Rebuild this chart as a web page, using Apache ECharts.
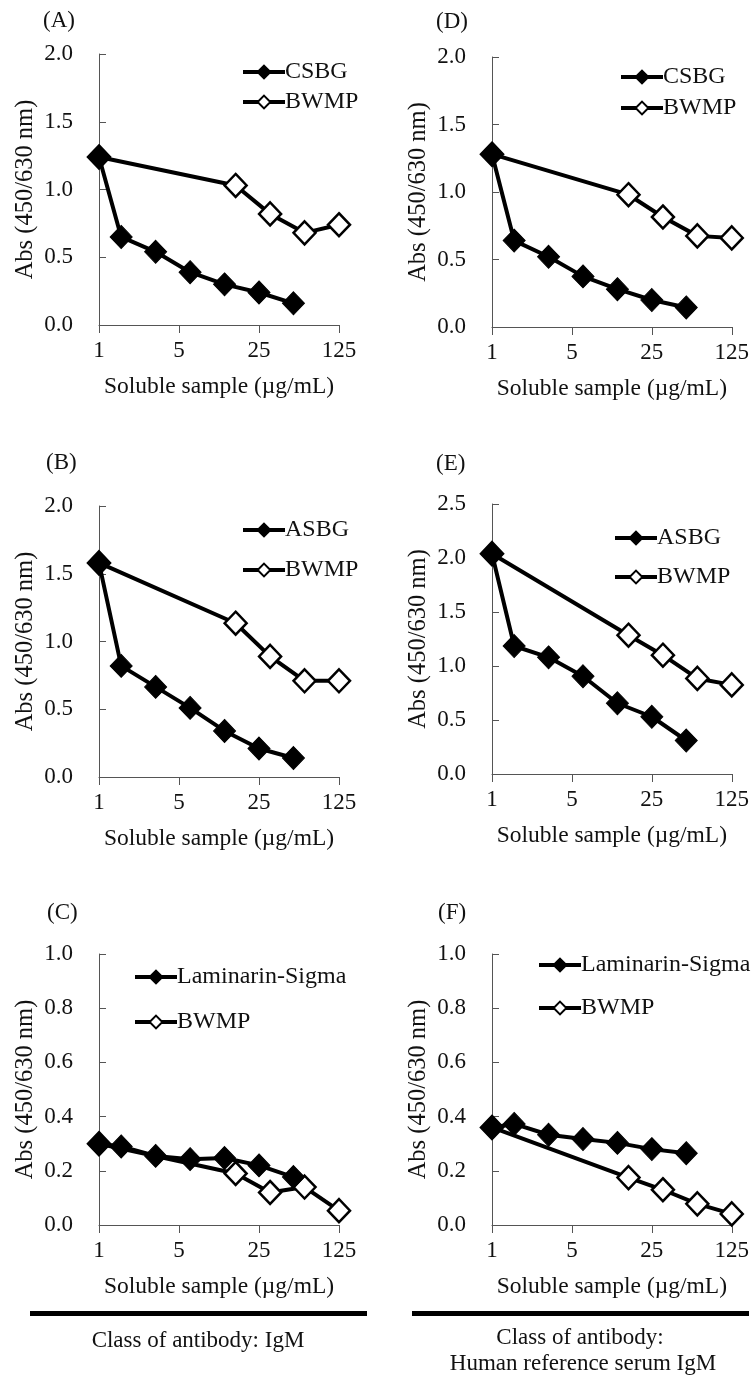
<!DOCTYPE html>
<html><head><meta charset="utf-8">
<script src="https://cdn.jsdelivr.net/npm/echarts@6/dist/echarts.min.js"></script>
<style>html,body{margin:0;padding:0;background:#fff}#c{width:752px;height:1376px}</style>
</head><body><div id="c"></div>
<script>
// ---------- data ----------
const CONC_SAMPLE = [1, 1.5625, 3.125, 6.25, 12.5, 25, 50];
const CONC_BWMP = [1, 15.625, 31.25, 62.5, 125];
const X_TICKS = [1, 5, 25, 125];
const PANEL_LABELS = ['(A)', '(D)', '(B)', '(E)', '(C)', '(F)'];
const SAMPLE_NAMES = ['CSBG', 'CSBG', 'ASBG', 'ASBG', 'Laminarin-Sigma', 'Laminarin-Sigma'];
const BWMP_NAME = 'BWMP';
const Y_MAX = [2.0, 2.0, 2.0, 2.5, 1.0, 1.0];
const Y_STEP = [0.5, 0.5, 0.5, 0.5, 0.2, 0.2];

const A_SAMPLE = [1.24, 0.65, 0.54, 0.39, 0.30, 0.24, 0.16];
const A_BWMP   = [1.24, 1.03, 0.82, 0.68, 0.74];
const D_SAMPLE = [1.28, 0.64, 0.52, 0.375, 0.28, 0.20, 0.145];
const D_BWMP   = [1.28, 0.98, 0.815, 0.675, 0.66];
const B_SAMPLE = [1.58, 0.82, 0.665, 0.51, 0.34, 0.21, 0.14];
const B_BWMP   = [1.58, 1.135, 0.89, 0.71, 0.71];
const E_SAMPLE = [2.04, 1.185, 1.08, 0.905, 0.655, 0.53, 0.31];
const E_BWMP   = [2.04, 1.285, 1.10, 0.885, 0.825];
const C_SAMPLE = [0.30, 0.29, 0.255, 0.243, 0.247, 0.22, 0.177];
const C_BWMP   = [0.30, 0.19, 0.12, 0.14, 0.053];
const F_SAMPLE = [0.36, 0.373, 0.333, 0.317, 0.303, 0.28, 0.265];
const F_BWMP   = [0.36, 0.175, 0.13, 0.078, 0.041];

const SAMPLE_VALUES = [A_SAMPLE, D_SAMPLE, B_SAMPLE, E_SAMPLE, C_SAMPLE, F_SAMPLE];
const BWMP_VALUES = [A_BWMP, D_BWMP, B_BWMP, E_BWMP, C_BWMP, F_BWMP];

const X_NAME = 'Soluble sample (\u00b5g/mL)';
const Y_NAME = 'Abs (450/630 nm)';
const FOOT_LEFT = 'Class of antibody: IgM';
const FOOT_RIGHT_1 = 'Class of antibody:';
const FOOT_RIGHT_2 = 'Human reference serum IgM';

// ---------- layout ----------
const GRIDS = [
  {left: 99, top: 54, width: 240, height: 271},
  {left: 492, top: 57, width: 240, height: 270},
  {left: 99, top: 506, width: 240, height: 271},
  {left: 492, top: 504, width: 240, height: 270},
  {left: 99, top: 954, width: 240, height: 271},
  {left: 492, top: 954, width: 240, height: 271}
];
const LEGEND_POS = [
  {x: 241, y: 72, gap: 30},
  {x: 619, y: 77, gap: 31},
  {x: 241, y: 530, gap: 40},
  {x: 613, y: 538, gap: 39},
  {x: 133, y: 977, gap: 45},
  {x: 537, y: 965, gap: 43}
];
const LABEL_POS = [
  {x: 43, y: 21}, {x: 436, y: 22}, {x: 46, y: 463},
  {x: 436, y: 464}, {x: 47, y: 913}, {x: 438, y: 913}
];

const FONT = "'Liberation Serif', 'Times New Roman', serif";
const TXT = '#111';
const AX = '#555';
const FS = 23;

const grid = [], xAxis = [], yAxis = [], series = [], legend = [], graphic = [];
for (let i = 0; i < 6; i++) {
  grid.push(Object.assign({containLabel: false}, GRIDS[i]));
  xAxis.push({
    type: 'log', logBase: 5, min: X_TICKS[0], max: X_TICKS[X_TICKS.length - 1], gridIndex: i,
    name: X_NAME, nameLocation: 'middle', nameGap: 50,
    nameTextStyle: {fontFamily: FONT, fontSize: 23.5, color: TXT},
    axisLine: {show: true, lineStyle: {color: AX, width: 1}},
    axisTick: {show: true, inside: false, length: 8, lineStyle: {color: AX}},
    axisLabel: {fontFamily: FONT, fontSize: FS, color: TXT, margin: 14,
      formatter: v => String(Math.round(v))},
    splitLine: {show: false}, minorTick: {show: false}
  });
  yAxis.push({
    type: 'value', min: 0, max: Y_MAX[i], interval: Y_STEP[i], gridIndex: i,
    name: Y_NAME, nameLocation: 'middle', nameGap: 61,
    nameTextStyle: {fontFamily: FONT, fontSize: 24.5, color: TXT},
    axisLine: {show: true, lineStyle: {color: AX, width: 1}},
    axisTick: {show: true, inside: true, length: 7, lineStyle: {color: AX}},
    axisLabel: {fontFamily: FONT, fontSize: FS, color: TXT, margin: 26,
      formatter: v => v.toFixed(1)},
    splitLine: {show: false}
  });
  const sName = SAMPLE_NAMES[i];
  series.push({
    type: 'line', name: BWMP_NAME, xAxisIndex: i, yAxisIndex: i, z: 2,
    data: CONC_BWMP.map((x, k) => [x, BWMP_VALUES[i][k]]),
    symbol: 'diamond', symbolSize: [22, 23],
    lineStyle: {color: '#000', width: 4},
    itemStyle: {color: '#fff', borderColor: '#000', borderWidth: 2.5},
    emphasis: {disabled: true}, animation: false
  });
  series.push({
    type: 'line', name: sName, xAxisIndex: i, yAxisIndex: i, z: 3,
    data: CONC_SAMPLE.map((x, k) => [x, SAMPLE_VALUES[i][k]]),
    symbol: 'diamond', symbolSize: [22, 23],
    lineStyle: {color: '#000', width: 4},
    itemStyle: {color: '#000', borderColor: '#000', borderWidth: 1},
    emphasis: {disabled: true}, animation: false
  });
  const L = LEGEND_POS[i];
  legend.push({
    orient: 'vertical', left: L.x, top: L.y - 12, itemGap: L.gap - 24,
    itemWidth: 42, itemHeight: 16, selectedMode: false, padding: 0,
    data: [sName, BWMP_NAME],
    lineStyle: {width: 4, color: '#000'},
    textStyle: {fontFamily: FONT, fontSize: 24, color: TXT, lineHeight: 24, padding: [0, 0, 0, -5]}
  });
  graphic.push({
    type: 'text', left: LABEL_POS[i].x, top: LABEL_POS[i].y - 12,
    style: {text: PANEL_LABELS[i], font: `23px ${FONT}`, fill: TXT}
  });
}
graphic.push(
  {type: 'rect', shape: {x: 30, y: 1311, width: 337, height: 5}, style: {fill: '#000'}},
  {type: 'rect', shape: {x: 412, y: 1311, width: 337, height: 5}, style: {fill: '#000'}},
  {type: 'text', x: 198, y: 1341, style: {text: FOOT_LEFT, font: `23px ${FONT}`, fill: TXT, textAlign: 'center', textVerticalAlign: 'middle'}},
  {type: 'text', x: 580, y: 1338, style: {text: FOOT_RIGHT_1, font: `23px ${FONT}`, fill: TXT, textAlign: 'center', textVerticalAlign: 'middle'}},
  {type: 'text', x: 583, y: 1364, style: {text: FOOT_RIGHT_2, font: `23px ${FONT}`, fill: TXT, textAlign: 'center', textVerticalAlign: 'middle'}}
);

const chart = echarts.init(document.getElementById('c'), null, {renderer: 'canvas'});
chart.setOption({animation: false, backgroundColor: '#fff', grid, xAxis, yAxis, series, legend, graphic});
</script></body></html>
